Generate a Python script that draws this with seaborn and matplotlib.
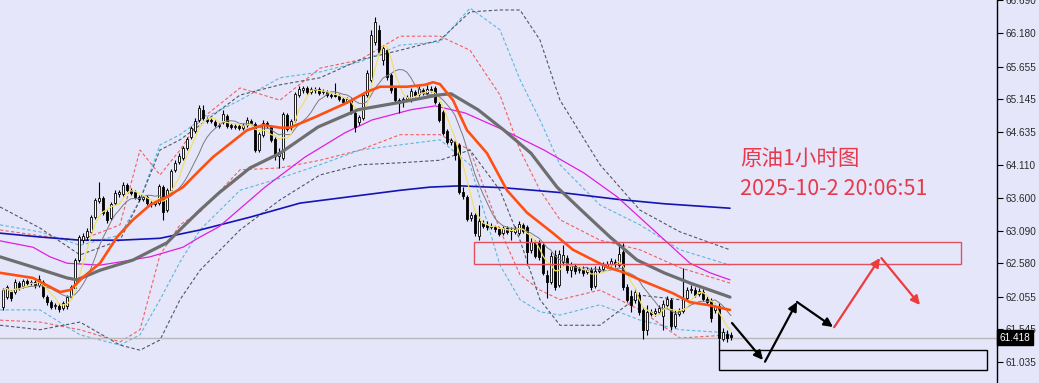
import numpy as np
import pandas as pd
import matplotlib
matplotlib.use("Agg")
import matplotlib.pyplot as plt
import matplotlib.transforms as mtransforms
from matplotlib.patches import Rectangle
import seaborn as sns

# ---------------- data ----------------
opens = [61.90, 62.05, 62.13, 62.13, 62.27, 62.22, 62.30, 62.27, 62.29, 62.24,
         62.29, 62.05, 61.97, 61.91, 61.91, 61.88, 61.91, 62.05, 62.19, 62.63,
         62.94, 62.99, 63.07, 63.30, 63.55, 63.60, 63.38, 63.29, 63.52, 63.66,
         63.66, 63.80, 63.72, 63.69, 63.62, 63.58, 63.62, 63.52, 63.51, 63.52,
         63.77, 63.41, 63.72, 64.04, 64.16, 64.23, 64.38, 64.55, 64.65, 64.82,
         64.98, 64.83, 64.82, 64.79, 64.74, 64.79, 64.88, 64.74, 64.71, 64.73,
         64.70, 64.74, 64.80, 64.76, 64.35, 64.59, 64.77, 64.71, 64.52, 64.26,
         64.23, 64.90, 64.71, 64.82, 65.21, 65.29, 65.32, 65.26, 65.30, 65.30,
         65.26, 65.26, 65.21, 65.21, 65.20, 65.15, 65.12, 65.13, 64.93, 64.79,
         64.85, 65.21, 65.45, 66.04, 66.23, 65.76, 65.91, 65.52, 65.32, 65.13,
         65.10, 65.15, 65.13, 65.26, 65.23, 65.29, 65.24, 65.30, 65.32, 65.07,
         64.94, 64.65, 64.48, 64.48, 64.43, 63.69, 63.62, 63.29, 63.33, 63.01,
         63.21, 63.18, 63.15, 63.15, 63.12, 63.05, 63.13, 63.08, 63.07, 63.05,
         63.18, 63.15, 62.79, 62.91, 62.90, 62.86, 62.40, 62.29, 62.71, 62.24,
         62.60, 62.66, 62.47, 62.54, 62.47, 62.49, 62.44, 62.47, 62.22, 62.46,
         62.49, 62.54, 62.57, 62.60, 62.55, 62.76, 62.21, 62.07, 62.01, 62.08,
         61.85, 61.54, 61.82, 61.80, 61.82, 61.75, 61.93, 62.01, 61.60, 61.79,
         61.83, 62.04, 62.16, 62.16, 62.10, 62.13, 62.02, 61.99, 61.85, 61.91,
         61.40, 61.47, 61.46]
closes = [62.16, 62.21, 62.04, 62.29, 62.19, 62.30, 62.27, 62.29, 62.24, 62.33,
          62.07, 61.97, 61.90, 61.93, 61.86, 61.96, 62.05, 62.21, 62.63, 62.99,
          63.01, 63.08, 63.30, 63.57, 63.60, 63.37, 63.26, 63.51, 63.68, 63.69,
          63.80, 63.72, 63.68, 63.62, 63.58, 63.62, 63.52, 63.51, 63.54, 63.79,
          63.38, 63.72, 64.02, 64.15, 64.26, 64.38, 64.52, 64.70, 64.80, 65.01,
          64.85, 64.80, 64.80, 64.74, 64.73, 64.91, 64.73, 64.71, 64.73, 64.70,
          64.74, 64.82, 64.77, 64.35, 64.60, 64.77, 64.73, 64.51, 64.26, 64.32,
          64.91, 64.68, 64.80, 65.23, 65.30, 65.32, 65.26, 65.30, 65.29, 65.24,
          65.27, 65.21, 65.20, 65.20, 65.15, 65.10, 65.15, 64.94, 64.71, 64.87,
          65.21, 65.55, 66.15, 66.35, 65.88, 65.95, 65.49, 65.29, 65.13, 65.09,
          65.15, 65.18, 65.27, 65.21, 65.30, 65.24, 65.30, 65.29, 65.10, 64.82,
          64.62, 64.48, 64.51, 64.27, 63.69, 63.63, 63.27, 63.33, 63.05, 63.24,
          63.16, 63.15, 63.16, 63.12, 63.04, 63.13, 63.07, 63.10, 63.12, 63.19,
          63.08, 62.76, 62.91, 62.69, 62.68, 62.43, 62.29, 62.69, 62.21, 62.72,
          62.71, 62.47, 62.54, 62.46, 62.49, 62.43, 62.47, 62.21, 62.46, 62.49,
          62.55, 62.57, 62.61, 62.57, 62.72, 62.21, 62.01, 61.93, 62.13, 61.82,
          61.54, 61.82, 61.79, 61.83, 61.88, 61.94, 62.02, 61.60, 61.79, 61.83,
          62.04, 62.16, 62.18, 62.08, 62.15, 62.02, 61.97, 61.72, 61.91, 61.41,
          61.51, 61.41, 61.42]
highs = [62.19, 62.24, 62.16, 62.33, 62.30, 62.33, 62.33, 62.32, 62.32, 62.40,
         62.32, 62.08, 62.01, 61.96, 61.96, 61.99, 62.08, 62.24, 62.66, 63.02,
         63.05, 63.13, 63.33, 63.60, 63.85, 63.63, 63.41, 63.54, 63.72, 63.72,
         63.85, 63.83, 63.76, 63.72, 63.65, 63.65, 63.65, 63.55, 63.57, 63.82,
         63.80, 63.76, 64.05, 64.19, 64.30, 64.41, 64.55, 64.73, 64.85, 65.05,
         65.05, 64.87, 64.85, 64.82, 64.77, 64.98, 64.91, 64.77, 64.76, 64.76,
         64.77, 64.87, 64.83, 64.79, 64.63, 64.82, 64.80, 64.74, 64.55, 64.38,
         64.94, 64.93, 64.83, 65.26, 65.35, 65.35, 65.35, 65.34, 65.34, 65.34,
         65.30, 65.29, 65.24, 65.40, 65.23, 65.18, 65.18, 65.16, 64.96, 64.90,
         65.24, 65.60, 66.23, 66.43, 66.30, 66.00, 65.95, 65.55, 65.35, 65.16,
         65.18, 65.21, 65.32, 65.29, 65.35, 65.32, 65.37, 65.35, 65.35, 65.10,
         64.98, 64.68, 64.54, 64.51, 64.46, 63.77, 63.65, 63.38, 63.37, 63.49,
         63.26, 63.24, 63.21, 63.18, 63.15, 63.16, 63.16, 63.15, 63.16, 63.24,
         63.21, 63.18, 62.97, 62.94, 62.94, 62.90, 62.47, 62.76, 62.79, 62.79,
         62.86, 62.71, 62.60, 62.58, 62.54, 62.54, 62.52, 62.52, 62.54, 62.54,
         62.60, 62.61, 62.66, 62.65, 62.86, 62.90, 62.26, 62.16, 62.19, 62.13,
         61.90, 61.93, 61.86, 61.88, 61.93, 62.01, 62.07, 62.04, 61.85, 61.88,
         62.51, 62.21, 62.24, 62.21, 62.19, 62.18, 62.07, 62.04, 61.96, 61.96,
         61.57, 61.54, 61.51]
lows = [61.85, 62.02, 61.99, 62.10, 62.16, 62.19, 62.22, 62.24, 62.19, 62.21,
        62.04, 61.93, 61.86, 61.86, 61.82, 61.85, 61.86, 62.02, 62.16, 62.60,
        62.90, 62.94, 63.04, 63.27, 63.52, 63.33, 63.21, 63.26, 63.49, 63.62,
        63.63, 63.69, 63.65, 63.58, 63.55, 63.55, 63.49, 63.46, 63.47, 63.49,
        63.26, 63.38, 63.69, 64.01, 64.13, 64.19, 64.35, 64.52, 64.62, 64.79,
        64.82, 64.77, 64.77, 64.71, 64.70, 64.76, 64.70, 64.68, 64.68, 64.66,
        64.66, 64.71, 64.74, 64.32, 64.32, 64.55, 64.70, 64.48, 64.19, 64.07,
        64.19, 64.65, 64.66, 64.79, 65.18, 65.24, 65.23, 65.23, 65.24, 65.21,
        65.23, 65.18, 65.16, 65.18, 65.12, 65.07, 65.09, 64.91, 64.63, 64.74,
        64.82, 65.18, 65.41, 66.00, 65.84, 65.68, 65.45, 65.24, 65.09, 64.93,
        65.02, 65.12, 65.10, 65.18, 65.20, 65.21, 65.21, 65.26, 65.07, 64.79,
        64.59, 64.44, 64.43, 64.19, 63.66, 63.58, 63.24, 63.24, 63.01, 62.94,
        63.13, 63.10, 63.12, 63.07, 63.01, 63.02, 63.04, 62.94, 63.04, 63.02,
        63.05, 62.55, 62.74, 62.66, 62.63, 62.40, 62.04, 62.26, 62.16, 62.21,
        62.55, 62.43, 62.36, 62.41, 62.43, 62.38, 62.41, 62.16, 62.19, 62.43,
        62.46, 62.51, 62.52, 62.52, 62.52, 62.16, 61.97, 61.82, 61.96, 61.77,
        61.40, 61.46, 61.75, 61.75, 61.79, 61.54, 61.88, 61.54, 61.57, 61.75,
        61.80, 62.01, 62.11, 62.05, 62.07, 61.99, 61.93, 61.66, 61.80, 61.30,
        61.37, 61.35, 61.38]

# moving averages (bar position, price)
ma_orange_x = [-0.75, 7.5, 11.75, 14.25, 16.75, 20, 24.25, 28.5, 32.5, 36.75, 41, 45, 49.25,
               52.5, 61, 65, 69.25, 71.75, 77.5, 86, 91, 94.25, 101, 105.5, 107.5, 109.25,
               112.5, 116, 121, 126, 131, 137.5, 142.5, 151, 155, 159.25, 167.5, 171.75,
               176, 181.75]
ma_orange_y = [62.43, 62.35, 62.21, 62.13, 62.16, 62.36, 62.58, 62.99, 63.26, 63.49, 63.62,
               63.77, 64.04, 64.24, 64.66, 64.74, 64.70, 64.70, 64.85, 65.09, 65.26, 65.34,
               65.34, 65.37, 65.41, 65.38, 65.13, 64.66, 64.30, 63.72, 63.37, 63.05, 62.79,
               62.52, 62.44, 62.32, 62.11, 61.97, 61.93, 61.85]
ma_gray_x = [-0.75, 7.5, 16, 18.5, 24.25, 32.5, 41, 45, 49.25, 54, 61.75, 69.25, 78.75,
             88.75, 98.75, 108.75, 112, 118.75, 125.25, 132, 138.5, 145.25, 151.75, 158.5,
             165.25, 171.75, 176.75, 181.75]
ma_gray_y = [62.68, 62.52, 62.35, 62.32, 62.47, 62.63, 62.90, 63.15, 63.41, 63.68, 64.07,
             64.30, 64.71, 64.98, 65.09, 65.21, 65.23, 64.98, 64.66, 64.30, 63.77, 63.37,
             62.99, 62.63, 62.43, 62.27, 62.16, 62.05]
ma_magenta_x = [-0.75, 7.5, 11.75, 16, 24.25, 29.25, 36.75, 45, 49.25, 54, 65.5, 75.5, 85.5,
                92.25, 102, 108, 115.5, 125.25, 135.25, 145.25, 153.5, 163.5, 171.75,
                176.75, 181.75]
ma_magenta_y = [62.93, 62.83, 62.68, 62.58, 62.55, 62.60, 62.68, 62.83, 62.99, 63.15, 63.77,
                64.24, 64.62, 64.82, 64.98, 65.04, 64.93, 64.66, 64.35, 63.99, 63.62, 63.05,
                62.58, 62.43, 62.32]
ma_blue_x = [-0.75, 9.25, 19.25, 29.25, 39.25, 49.25, 61.75, 74.25, 86.75, 99.25, 106.75,
             114.25, 125.25, 140.25, 153.5, 165.25, 181.75]
ma_blue_y = [63.05, 62.99, 62.94, 62.94, 62.97, 63.10, 63.30, 63.52, 63.62, 63.72, 63.77,
             63.79, 63.76, 63.68, 63.58, 63.51, 63.44]

# envelope / band lines (bar position, price)
band_x = [-0.75, 9.25, 19.25, 29.25, 34.25, 39.25, 44.25, 49.25, 59.25, 69.25, 79.25, 89.25,
          99.25, 109.25, 116.75, 124.25, 129.25, 134.25, 139.25, 149.25, 159.25, 169.25, 181.75]
red_up = [63.10, 63.01, 62.94, 63.18, 64.35, 63.96, 64.35, 64.82, 65.32, 65.13, 65.63, 65.76,
          66.13, 66.13, 65.91, 65.21, 64.35, 63.72, 63.26, 62.94, 62.79, 62.51, 62.27]
red_lo = [61.69, 61.66, 61.54, 61.35, 61.54, 62.71, 63.18, 63.38, 64.04, 64.07, 64.19, 64.35,
          64.59, 64.59, 64.35, 63.10, 62.40, 62.16, 62.01, 62.16, 61.85, 61.41, 61.46]
cyan_up = [63.18, 63.07, 62.86, 63.02, 63.57, 64.43, 64.59, 64.82, 65.13, 65.48, 65.57, 65.73,
           65.99, 66.04, 66.57, 66.23, 65.45, 64.82, 64.12, 63.49, 63.18, 62.79, 62.55]
cyan_lo = [61.85, 61.85, 61.46, 61.30, 61.46, 62.01, 62.60, 63.10, 63.72, 63.91, 64.12, 64.35,
           64.43, 64.51, 64.12, 62.55, 62.01, 61.82, 61.77, 61.93, 61.69, 61.54, 61.49]
dark_up = [63.46, 63.13, 62.71, 62.94, 63.57, 64.35, 64.51, 64.74, 65.21, 65.37, 65.48, 65.76,
           65.91, 66.07, 66.51, 66.54, 66.54, 66.07, 65.13, 64.12, 63.41, 63.07, 62.79]
dark_lo = [61.61, 61.54, 61.66, 61.30, 61.22, 61.38, 62.01, 62.47, 63.10, 63.57, 63.96, 64.12,
           64.15, 64.19, 64.35, 63.72, 62.94, 62.01, 61.61, 61.61, 62.08, 62.01, 61.85]

# price axis
tick_values = [66.690, 66.180, 65.655, 65.145, 64.635, 64.110, 63.600, 63.090, 62.580,
               62.055, 61.545, 61.035]
tick_labels = ["66.690", "66.180", "65.655", "65.145", "64.635", "64.110", "63.600",
               "63.090", "62.580", "62.055", "61.545", "61.035"]
last_price = 61.418

# annotation zones and projected path
zone_red = (117.75, 239.5, 62.568, 62.912)      # x0, x1, low, high
zone_black = (179.0, 246.0, 60.91, 61.22)
path_black = [(182.25, 61.645), (190.0, 61.067), (190.5, 61.04), (198.5, 61.974), (207.5, 61.583)]
path_red = [(207.8, 61.58), (219.25, 62.662), (219.6, 62.66), (229.25, 61.927)]
title_lines = ["原油1小时图", "2025-10-2 20:06:51"]

# ---------------- drawing ----------------
BG = "#e6e6fa"
sns.set_style("white", {"axes.facecolor": BG, "figure.facecolor": BG})
plt.rcParams["font.family"] = ["Liberation Sans", "DejaVu Sans"]

fig = plt.figure(figsize=(10.39, 3.83), dpi=100)
ax = fig.add_axes([0, 0, 997 / 1039, 1])
ax.set_facecolor(BG)

n = len(closes)
idx = np.arange(n)
df = pd.DataFrame({"i": idx, "o": opens, "c": closes, "h": highs, "l": lows})

# bands (dashed)
dash = (0, (3, 2))
for up, lo, col in [(red_up, red_lo, "#f06060"), (cyan_up, cyan_lo, "#5ab8dc"),
                    (dark_up, dark_lo, "#4f5866")]:
    sns.lineplot(x=band_x, y=up, ax=ax, color=col, linewidth=0.8, linestyle=dash, zorder=1)
    sns.lineplot(x=band_x, y=lo, ax=ax, color=col, linewidth=0.8, linestyle=dash, zorder=1)

# current price line
ax.axhline(last_price, color="#b8b8b8", linewidth=1.0, zorder=1)

# long MAs
sns.lineplot(x=ma_blue_x, y=ma_blue_y, ax=ax, color="#1414b4", linewidth=1.2, zorder=2)
sns.lineplot(x=ma_magenta_x, y=ma_magenta_y, ax=ax, color="#e01ee0", linewidth=0.9, zorder=2)

# candles
wick_lo = df["l"].to_numpy()
wick_hi = df["h"].to_numpy()
ax.vlines(df["i"], wick_lo, wick_hi, color="black", linewidth=0.8, zorder=3)
body_lo = np.minimum(df["o"], df["c"])
body_h = np.maximum(np.abs(df["c"] - df["o"]), 0.012)
up = df["c"] >= df["o"]
ax.bar(df["i"][up], body_h[up], bottom=body_lo[up], width=0.72, color="white",
       edgecolor="black", linewidth=0.6, zorder=4)
ax.bar(df["i"][~up], body_h[~up], bottom=body_lo[~up], width=0.72, color="black",
       edgecolor="black", linewidth=0.6, zorder=4)

# short MAs from closes
df["ma5"] = df["c"].rolling(5, min_periods=1).mean()
df["ma10"] = df["c"].rolling(10, min_periods=1).mean()
sns.lineplot(data=df, x="i", y="ma10", ax=ax, color="#7a7a80", linewidth=0.7, zorder=5)
sns.lineplot(data=df, x="i", y="ma5", ax=ax, color="#f2e060", linewidth=0.9, zorder=5)

# medium MAs
sns.lineplot(x=ma_gray_x, y=ma_gray_y, ax=ax, color="#6e6e6e", linewidth=2.3, zorder=6)
sns.lineplot(x=ma_orange_x, y=ma_orange_y, ax=ax, color="#ff5014", linewidth=1.9, zorder=7)

# zones
ax.add_patch(Rectangle((zone_red[0], zone_red[2]), zone_red[1] - zone_red[0],
                       zone_red[3] - zone_red[2], fill=False, edgecolor="#e2505e",
                       linewidth=1.0, zorder=8))
ax.add_patch(Rectangle((zone_black[0], zone_black[2]), zone_black[1] - zone_black[0],
                       zone_black[3] - zone_black[2], fill=False, edgecolor="black",
                       linewidth=1.0, zorder=8))
ax.plot([zone_black[0], zone_black[0]], [61.38, zone_black[3]], color="black", lw=1.0, zorder=8)

# projected path arrows
def arrows(path, col, lw):
    for k in range(0, len(path) - 1, 2 if len(path) % 2 == 0 else 1):
        pass

for (p0, p1) in [(path_black[0], path_black[1]), (path_black[2], path_black[3]),
                 (path_black[3], path_black[4])]:
    ax.annotate("", xy=p1, xytext=p0,
                arrowprops=dict(arrowstyle="-|>", color="black", lw=1.6,
                                mutation_scale=13, shrinkA=0, shrinkB=0), zorder=9)
for (p0, p1) in [(path_red[0], path_red[1]), (path_red[2], path_red[3])]:
    ax.annotate("", xy=p1, xytext=p0,
                arrowprops=dict(arrowstyle="-|>", color="#ec3c3c", lw=1.6,
                                mutation_scale=13, shrinkA=0, shrinkB=0), zorder=9)

# title texts
ax.text(184.2, 64.19, title_lines[0], color="#e6394c", fontsize=15.5,
        family=["Noto Sans CJK SC", "DejaVu Sans"], va="center", ha="left", zorder=10)
ax.text(184.2, 63.74, title_lines[1], color="#e6394c", fontsize=15.5,
        family=["Noto Sans CJK SC", "DejaVu Sans"], va="center", ha="left", zorder=10)

# axes
ax.set_xlim(-0.75, 248.5)
ax.set_ylim(60.707, 66.696)
ax.set_xlabel("")
ax.set_ylabel("")
ax.set_xticks([])
ax.yaxis.tick_right()
ax.set_yticks(tick_values)
ax.set_yticklabels(tick_labels)
ax.tick_params(axis="y", direction="out", length=4, width=0.8, color="black",
               labelsize=7.2, labelcolor="#2a2a2a", pad=2, right=True, left=False)
for s in ["left", "top", "bottom"]:
    ax.spines[s].set_visible(False)
ax.spines["right"].set_visible(True)
ax.spines["right"].set_color("black")
ax.spines["right"].set_linewidth(1.0)

# last price tag
trans = mtransforms.blended_transform_factory(ax.transAxes, ax.transData)
ax.text(1.003, last_price, "61.418", transform=trans, color="white", fontsize=7.2,
        va="center", ha="left", zorder=20, clip_on=False,
        bbox=dict(facecolor="black", edgecolor="black", boxstyle="square,pad=0.25"))

fig.savefig("out.png", dpi=100, facecolor=BG)
